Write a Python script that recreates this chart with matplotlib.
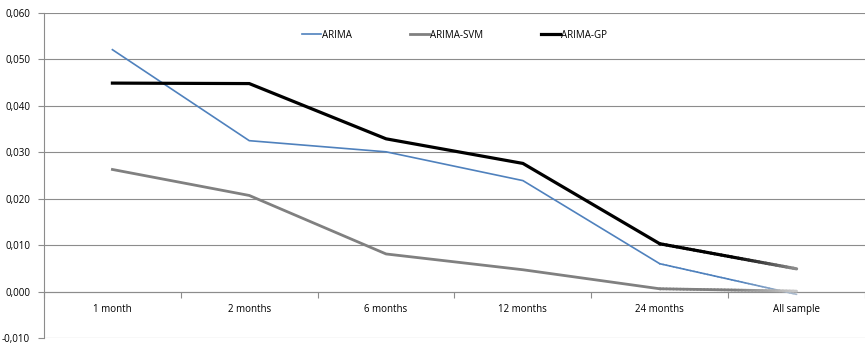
import matplotlib
matplotlib.use("Agg")
import matplotlib.pyplot as plt
import numpy as np
from matplotlib.collections import LineCollection
from matplotlib.colors import to_rgb
from matplotlib.lines import Line2D
from matplotlib.ticker import FixedLocator, FuncFormatter

# horizons and errors per model
horizons = ["1 month", "2 months", "6 months", "12 months", "24 months", "All sample"]
arima = [0.0521, 0.0325, 0.0301, 0.0239, 0.0060, -0.0006]
arima_svm = [0.0263, 0.0207, 0.0081, 0.0047, 0.0006, 0.0001]
arima_gp = [0.0449, 0.0448, 0.0329, 0.0276, 0.0103, 0.0049]

plt.rcParams['font.family'] = ['Open Sans', 'DejaVu Sans']


def draw_series(ax, x, y, color, lw, end_color, zorder):
    # all but the last segment drawn plainly, the last one fades out
    ax.plot(x[:-1], y[:-1], color=color, lw=lw, zorder=zorder,
            solid_joinstyle='miter')
    n = 40
    xs = np.linspace(x[-2], x[-1], n + 1)
    ys = np.linspace(y[-2], y[-1], n + 1)
    segs = [[(xs[i], ys[i]), (xs[i + 1], ys[i + 1])] for i in range(n)]
    c0, c1 = np.array(to_rgb(color)), np.array(to_rgb(end_color))
    t = np.clip((np.linspace(0, 1, n) - 0.55) / 0.45, 0, 1)
    cols = [tuple(c0 + (c1 - c0) * k) for k in t]
    ax.add_collection(LineCollection(segs, colors=cols, linewidths=lw,
                                     zorder=zorder, capstyle='round',
                                     antialiased=True))


fig = plt.figure(figsize=(8.65, 3.45), dpi=100)
ax = fig.add_axes([44 / 865, 7 / 345, 821 / 865, 325 / 345])

x = list(range(len(horizons)))
draw_series(ax, x, arima, '#4f81bd', 1.2, '#a9b9cc', 3)
draw_series(ax, x, arima_svm, '#808080', 2.0, '#c8c8c8', 3)
draw_series(ax, x, arima_gp, '#000000', 2.3, '#8a8a8a', 4)

ax.set_xlim(-0.5, len(horizons) - 0.5)
ax.set_ylim(-0.010, 0.060)

# y axis with comma decimals and gridlines
ax.yaxis.set_major_locator(FixedLocator([i / 100 for i in range(-1, 7)]))
ax.yaxis.set_major_formatter(FuncFormatter(lambda v, p: f"{v:.3f}".replace('.', ',')))
ax.grid(axis='y', color='#8c8c8c', lw=0.8)
ax.set_axisbelow(True)
ax.tick_params(axis='y', length=4, color='#8c8c8c', labelsize=7, pad=6)

# category axis sits on zero
ax.spines['bottom'].set_position(('data', 0))
ax.spines['bottom'].set_color('#8c8c8c')
ax.spines['left'].set_color('#8c8c8c')
ax.spines['top'].set_visible(False)
ax.spines['right'].set_visible(False)
ax.xaxis.set_major_locator(FixedLocator([i + 0.5 for i in range(-1, len(horizons))]))
ax.xaxis.set_major_formatter(FuncFormatter(lambda v, p: ''))
ax.set_xticks(x, horizons, minor=True)
ax.tick_params(axis='x', which='major', length=4, color='#8c8c8c')
ax.tick_params(axis='x', which='minor', length=0, labelsize=7, pad=9)

handles = [Line2D([], [], color='#4f81bd', lw=1.2),
           Line2D([], [], color='#808080', lw=2.0),
           Line2D([], [], color='#000000', lw=2.3)]
ax.legend(handles, ['ARIMA', 'ARIMA-SVM', 'ARIMA-GP'], loc='upper center',
          bbox_to_anchor=(0.5, 0.975), ncol=3, frameon=False, fontsize=7,
          handlelength=2.0, handletextpad=0.1, columnspacing=5.9)

fig.savefig('out.png', dpi=100)
